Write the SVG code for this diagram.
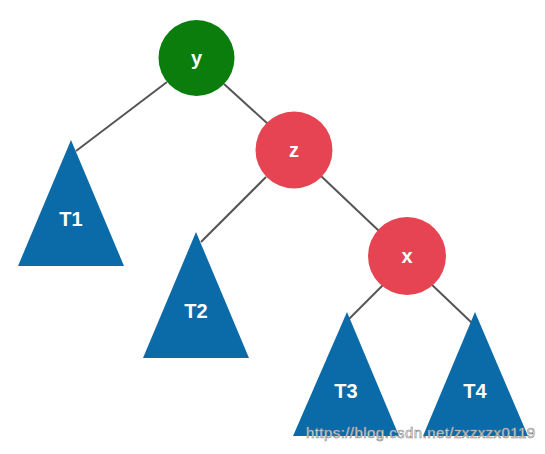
<svg xmlns="http://www.w3.org/2000/svg" width="545" height="454" viewBox="0 0 545 454">
<style>
.edge{stroke:#555;stroke-width:2;fill:none}
.tri{fill:#0b6aa8}
.red{fill:#e64452}
.green{fill:#0a7d0d}
.lbl{font-family:"Liberation Sans",Arial,sans-serif;font-weight:bold;font-size:20px;fill:#fff;text-anchor:middle}
.wm{font-family:"Liberation Sans",Arial,sans-serif;font-size:15px;fill:#f4f4f4;stroke:#8a8a8a;stroke-width:0.6}
</style>
<rect width="545" height="454" fill="#fff"/>
<g id="connectors">
<line class="edge" x1="167" y1="82" x2="76" y2="151"/>
<line class="edge" x1="224" y1="84" x2="268" y2="124"/>
<line class="edge" x1="266" y1="177" x2="201" y2="242"/>
<line class="edge" x1="321" y1="176" x2="379" y2="231"/>
<line class="edge" x1="384" y1="284" x2="349" y2="319"/>
<line class="edge" x1="429" y1="282" x2="472" y2="323"/>
</g>
<g id="node-y"><circle class="green" cx="196.5" cy="58" r="38"/><text class="lbl" x="196.5" y="65">y</text></g>
<g id="node-z"><circle class="red" cx="294" cy="150" r="38.5"/><text class="lbl" x="294" y="157">z</text></g>
<g id="node-x"><circle class="red" cx="407" cy="256" r="39"/><text class="lbl" x="407" y="263">x</text></g>
<g id="node-T1"><polygon class="tri" points="71,140 124,266 18,266"/><text class="lbl" x="71" y="226">T1</text></g>
<g id="node-T2"><polygon class="tri" points="196,232 249,358 143,358"/><text class="lbl" x="196" y="318">T2</text></g>
<g id="node-T3"><polygon class="tri" points="347,312 399,436 293,436"/><text class="lbl" x="346" y="398">T3</text></g>
<g id="node-T4"><polygon class="tri" points="475,312 528,436 423,436"/><text class="lbl" x="475" y="398">T4</text></g>
<text class="wm" x="306" y="438" textLength="229">https://blog.csdn.net/zxzxzx0119</text>
</svg>
